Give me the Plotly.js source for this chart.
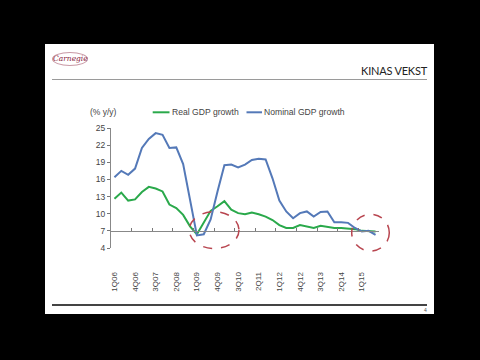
<!DOCTYPE html>
<html>
<head>
<meta charset="utf-8">
<script src="https://cdn.plot.ly/plotly-3.0.1.min.js"></script>
<style>
  html, body { margin:0; padding:0; background:#000; width:480px; height:360px; overflow:hidden; }
  #slide { position:absolute; left:45px; top:44px; width:389px; height:270px; background:#fff; }
  #logo { position:absolute; left:52px; top:52px; width:34px; height:12px; border:1px solid #c99aa6; border-radius:50%;
          font-family:"DejaVu Serif", serif; font-style:italic; font-size:7.5px; color:#8a2341; text-align:center; line-height:12px; }
  #title { position:absolute; right:53px; top:64px; font-family:Lato, "Open Sans", sans-serif; font-size:11px; color:#222; letter-spacing:-0.2px; }
  #hline { position:absolute; left:52px; top:79px; width:375px; height:1px; background:#9a9a9a; }
  #bline { position:absolute; left:52px; top:304px; width:375px; height:2px; background:#444; }
  #pnum { position:absolute; left:424px; top:307px; font-family:"Liberation Sans", sans-serif; font-size:5px; color:#555; }
  #chart { position:absolute; left:0; top:0; width:480px; height:360px; }
</style>
</head>
<body>
<div id="slide"></div>
<div id="logo">Carnegie</div>
<div id="title">KINAS VEKST</div>
<div id="hline"></div>
<div id="bline"></div>
<div id="pnum">4</div>
<div id="chart"></div>
<script>
const quarters = ["1Q06","2Q06","3Q06","4Q06","1Q07","2Q07","3Q07","4Q07","1Q08","2Q08","3Q08","4Q08",
  "1Q09","2Q09","3Q09","4Q09","1Q10","2Q10","3Q10","4Q10","1Q11","2Q11","3Q11","4Q11",
  "1Q12","2Q12","3Q12","4Q12","1Q13","2Q13","3Q13","4Q13","1Q14","2Q14","3Q14","4Q14",
  "1Q15","2Q15","3Q15"];
const realGDP = [12.6,13.7,12.3,12.5,13.8,14.7,14.4,13.9,11.6,11.0,9.8,7.8,
  6.4,8.4,10.5,11.3,12.2,10.7,10.1,9.9,10.2,9.9,9.5,8.9,
  8.0,7.5,7.5,8.0,7.8,7.5,7.9,7.7,7.5,7.5,7.4,7.3,
  7.0,7.0,6.9];
const nominalGDP = [16.4,17.5,16.8,17.9,21.5,23.1,24.1,23.8,21.5,21.6,18.7,12.5,
  6.2,6.4,9.0,13.9,18.5,18.6,18.1,18.6,19.4,19.6,19.5,16.2,
  12.3,10.4,9.2,10.1,10.4,9.5,10.3,10.4,8.5,8.5,8.4,7.5,
  6.9,7.0,6.3];
const seriesNames = ["Real GDP growth","Nominal GDP growth"];
const yTicks = [4,7,10,13,16,19,22,25];
const unitLabel = "(% y/y)";

const green = "#2aa94b", blue = "#5479b8", red = "#b8454f";
const yMin = 4, yMax = 25, xCross = 7;

const traces = [
  {x: quarters, y: realGDP, name: seriesNames[0], type:"scatter", mode:"lines",
   line:{color:green, width:2}, showlegend:false},
  {x: quarters, y: nominalGDP, name: seriesNames[1], type:"scatter", mode:"lines",
   line:{color:blue, width:2}, showlegend:false}
];

const L = 111, W = 268, B = 248, H = 120;
const px = X => (X - L) / W, py = Y => (B - Y) / H;

const layout = {
  width:480, height:360,
  margin:{l:L, r:480-L-W, t:B-H, b:360-B, pad:0},
  paper_bgcolor:"rgba(0,0,0,0)", plot_bgcolor:"rgba(0,0,0,0)",
  font:{family:"Liberation Sans, Arial, sans-serif", size:8, color:"#444"},
  xaxis:{type:"category", categoryorder:"array", categoryarray:quarters,
    range:[-0.5, quarters.length-0.5], anchor:"free",
    position:(xCross-yMin)/(yMax-yMin),
    tickmode:"linear", tick0:0, dtick:3, tickson:"boundaries",
    ticks:"inside", ticklen:3, tickcolor:"#777", tickwidth:1,
    showline:true, linecolor:"#888", linewidth:1,
    showgrid:false, zeroline:false, tickangle:-90,
    ticklabelstandoff:37, tickfont:{size:8, color:"#444"}},
  yaxis:{range:[yMin,yMax], tickmode:"array", tickvals:yTicks,
    ticks:"outside", ticklen:3, tickcolor:"#777", showline:true, linecolor:"#888", linewidth:1,
    showgrid:false, zeroline:false, tickfont:{size:8.5, color:"#444"}},
  shapes:[
    {type:"line", xref:"paper", yref:"paper", x0:px(152.7), x1:px(169.5), y0:py(112.3), y1:py(112.3), line:{color:green, width:2}},
    {type:"line", xref:"paper", yref:"paper", x0:px(246.5), x1:px(262), y0:py(112.3), y1:py(112.3), line:{color:blue, width:2}},
    {type:"circle", xref:"paper", yref:"paper", x0:px(189.3), x1:px(239), y0:py(211.7), y1:py(248.5),
     line:{color:red, width:1.5, dash:"dash"}},
    {type:"circle", xref:"paper", yref:"paper", x0:px(351.7), x1:px(389.3), y0:py(214.3), y1:py(251),
     line:{color:red, width:1.5, dash:"dash"}}
  ],
  annotations:[
    {text:unitLabel, xref:"paper", yref:"paper", x:px(88), y:py(112.3), xanchor:"left", yanchor:"middle",
     showarrow:false, font:{size:8.5, color:"#444"}},
    {text:seriesNames[0], xref:"paper", yref:"paper", x:px(170), y:py(112.3), xanchor:"left", yanchor:"middle",
     showarrow:false, font:{size:8.6, color:"#444"}},
    {text:seriesNames[1], xref:"paper", yref:"paper", x:px(262), y:py(112.3), xanchor:"left", yanchor:"middle",
     showarrow:false, font:{size:8.6, color:"#444"}}
  ]
};

Plotly.newPlot("chart", traces, layout, {displayModeBar:false, staticPlot:true});
</script>
</body>
</html>
